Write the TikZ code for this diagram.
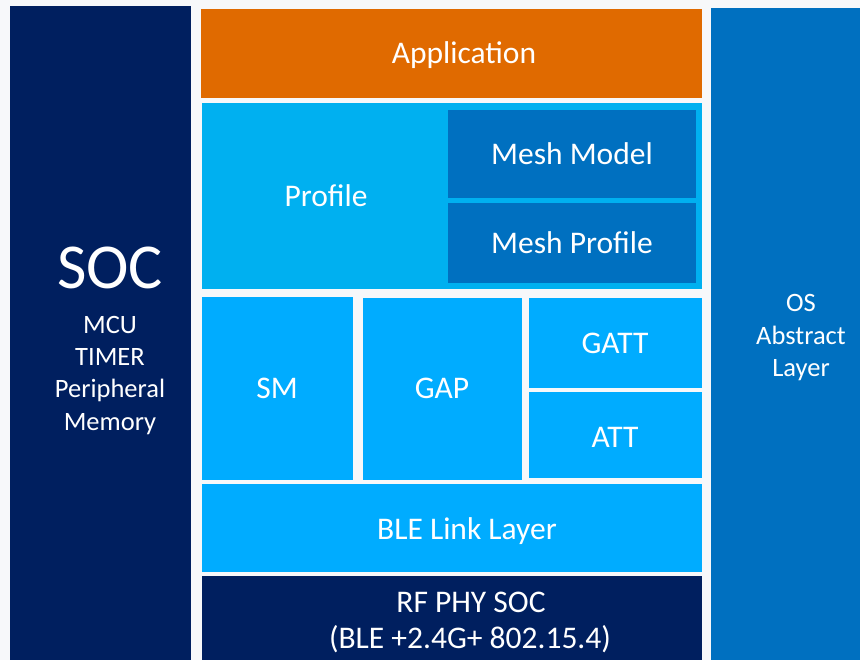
\documentclass[tikz,border=0pt]{standalone}
\usepackage{fontspec}
\setmainfont{Carlito}
\usepackage{tikz}
\usetikzlibrary{positioning}
\usepackage{xcolor}
\definecolor{paper}{HTML}{F7F8FA}
\definecolor{navy}{HTML}{001F5F}
\definecolor{amber}{HTML}{E06A00}
\definecolor{cyanfill}{HTML}{00B0F0}
\definecolor{skyfill}{HTML}{00ACFF}
\definecolor{deepblue}{HTML}{0070C0}

\begin{document}
\begin{tikzpicture}[x=1pt,y=-1pt,
    lbl/.style={text=white,anchor=base,inner sep=0pt,font=\fontsize{31.5}{36}\selectfont},
    sidelbl/.style={text=white,anchor=base,inner sep=0pt,font=\fontsize{26.5}{32}\selectfont}]
  % background
  \fill[paper] (0,0) rectangle (860,660);
  \useasboundingbox (0,0) rectangle (860,660);
  % side columns
  \fill[navy] (10,6) rectangle (191,660);
  \fill[deepblue] (711,8) rectangle (860,660);
  % application and profile
  \fill[amber] (201,9) rectangle (702,98);
  \fill[cyanfill] (202,103) rectangle (702,289);
  \fill[deepblue] (448,110) rectangle (696,198);
  \fill[deepblue] (448,203) rectangle (696,283);
  % host layers
  \fill[skyfill] (202,297) rectangle (353,480);
  \fill[skyfill] (363,298) rectangle (522,480);
  \fill[skyfill] (529,298) rectangle (702,388);
  \fill[skyfill] (529,392) rectangle (702,478);
  \fill[skyfill] (202,484) rectangle (702,572);
  \fill[navy] (202,576) rectangle (702,660);
  % labels
  \node[lbl] (app) at (464,64) {Application};
  \node[lbl] (profile) at (326,207) {Profile};
  \node[lbl] (meshmodel) at (572,165) {Mesh Model};
  \node[lbl] (meshprofile) at (572,254) {Mesh Profile};
  \node[lbl] (sm) at (277,399) {SM};
  \node[lbl] (gap) at (442,399) {GAP};
  \node[lbl] (gatt) at (615,354) {GATT};
  \node[lbl] (att) at (615,447) {ATT};
  \node[lbl] (ble) at (467,539) {BLE Link Layer};
  \node[lbl] (rfphy) at (471,612) {RF PHY SOC};
  \node[lbl] (rfbands) at (470,648) {(BLE +2.4G+ 802.15.4)};
  % soc column
  \node[text=white,anchor=base,inner sep=0pt,font=\fontsize{64}{70}\selectfont] (soc) at (110,289) {SOC};
  \foreach \part [count=\i] in {MCU,TIMER,Peripheral,Memory}
    \node[sidelbl] (soc\i) at (110,302+32*\i) {\part};
  % os column
  \foreach \word [count=\i] in {OS,Abstract,Layer}
    \node[sidelbl] (os\i) at (801,279.5+32.5*\i) {\word};
\end{tikzpicture}
\end{document}
